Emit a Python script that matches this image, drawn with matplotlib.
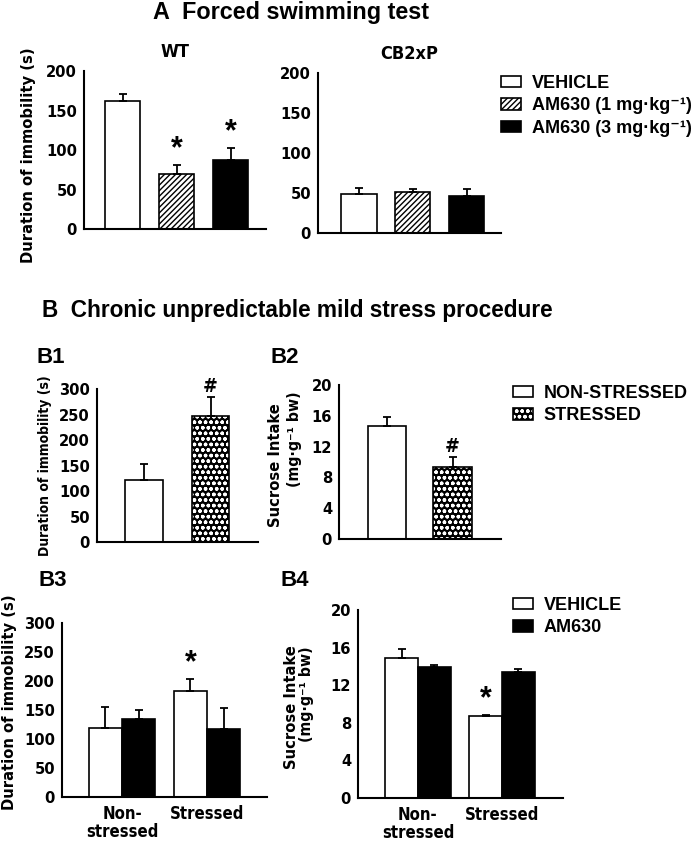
import matplotlib
matplotlib.use('Agg')
import matplotlib.pyplot as plt
from matplotlib.patches import Patch
import numpy as np

# ---- data ----
a_groups = ['VEHICLE', 'AM630 (1 mg·kg⁻¹)', 'AM630 (3 mg·kg⁻¹)']
a_wt = [162, 69, 87]
a_wt_err = [9, 12, 16]
a_cb2 = [49, 51, 46]
a_cb2_err = [7, 4, 9]

b_groups = ['NON-STRESSED', 'STRESSED']
b1_immob = [121, 248]
b1_err = [31, 37]
b2_sucrose = [14.7, 9.4]
b2_err = [1.2, 1.2]

b_cond = ['Non-\nstressed', 'Stressed']
b_treat = ['VEHICLE', 'AM630']
b3_vehicle = [119, 183]
b3_vehicle_err = [36, 20]
b3_am630 = [135, 117]
b3_am630_err = [15, 37]
b4_vehicle = [14.9, 8.7]
b4_vehicle_err = [1.0, 0.1]
b4_am630 = [13.9, 13.4]
b4_am630_err = [0.3, 0.3]

W, H = 693, 846
plt.rcParams['hatch.linewidth'] = 1.0
NARROW = dict(family='DejaVu Sans', stretch='condensed', fontweight='bold')
WIDE = dict(family=['Liberation Sans', 'DejaVu Sans'], fontweight='bold')
LEG_FONT = dict(family=['Liberation Sans', 'DejaVu Sans'], weight='bold', size=13)

fig = plt.figure(figsize=(W / 100, H / 100), dpi=100)


def add_ax(l, t, r, b):
    return fig.add_axes([l / W, 1 - b / H, (r - l) / W, (b - t) / H])


def ftext(x, y, s, **kw):
    return fig.text(x / W, 1 - y / H, s, **kw)


def style(ax, ymax, yticks):
    ax.set_ylim(0, ymax)
    ax.set_yticks(yticks)
    ax.set_yticklabels([str(t) for t in yticks], fontsize=11.8, **NARROW)
    for s in ['top', 'right']:
        ax.spines[s].set_visible(False)
    for s in ['left', 'bottom']:
        ax.spines[s].set_linewidth(1.5)
    ax.tick_params(length=0, pad=5)
    ax.set_xticks([])


def ebar(ax, x, y, e):
    ax.errorbar(x, y, yerr=[np.zeros(len(y)), e], fmt='none', ecolor='black',
                elinewidth=1.3, capsize=3, capthick=1.3)


def dotted_bar(ax, x, h, w):
    ax.bar(x, h, w, facecolor='black', hatch='ooo', edgecolor='white', linewidth=0)
    ax.bar(x, h, w, facecolor='none', edgecolor='black', linewidth=1.2)


def sucrose_label(xc1, xc2, top1, top2):
    ftext(xc1, top1, 'Sucrose Intake', rotation=90, ha='center', va='top',
          fontsize=11.8, **NARROW)
    ftext(xc2, top2, '(mg·g⁻¹ bw)', rotation=90, ha='center', va='top',
          fontsize=11.3, **NARROW)


# ---- panel A ----
styles_a = [dict(facecolor='white', edgecolor='black'),
            dict(facecolor='white', edgecolor='black', hatch='//////'),
            dict(facecolor='black', edgecolor='black')]

for (l, t, r, b), vals, errs, xl, title in [
        ((84, 71, 266, 229), a_wt, a_wt_err, (-0.713, 2.657), 'WT'),
        ((318, 73, 501, 233), a_cb2, a_cb2_err, (-0.76, 2.64), 'CB2xP')]:
    ax = add_ax(l, t, r, b)
    x = np.arange(len(vals))
    for i in range(len(vals)):
        ax.bar(x[i], vals[i], 0.66, linewidth=1.2, **styles_a[i])
    ebar(ax, x, vals, errs)
    ax.set_xlim(*xl)
    style(ax, 200, [0, 50, 100, 150, 200])
    ax.set_title(title, fontsize=13, pad=10, **NARROW)
    if title == 'WT':
        for i in [1, 2]:
            ax.text(x[i], vals[i] + errs[i] + 1, '*', ha='center', va='bottom',
                    fontsize=22, **WIDE)

ftext(29, 155, 'Duration of immobility (s)', rotation=90, ha='center', va='center',
      fontsize=11.8, **NARROW)
ftext(291, 13, 'A  Forced swimming test', ha='center', va='center', fontsize=16.8, **WIDE)
fig.legend([Patch(linewidth=1.2, **styles_a[i]) for i in range(3)], a_groups,
           loc='upper left', bbox_to_anchor=(501 / W, 1 - 75 / H), frameon=False,
           borderpad=0, borderaxespad=0, handlelength=1.1, handleheight=0.6,
           handletextpad=0.6, labelspacing=0.3, prop=LEG_FONT)

# ---- panel B1, B2 ----
ftext(42, 310, 'B  Chronic unpredictable mild stress procedure', ha='left',
      va='center', fontsize=16.3, **WIDE)

ax = add_ax(97, 389, 258, 542)
x = np.arange(2)
ax.bar(x[0], b1_immob[0], 0.57, facecolor='white', edgecolor='black', linewidth=1.2)
dotted_bar(ax, x[1], b1_immob[1], 0.57)
ebar(ax, x, b1_immob, b1_err)
ax.set_xlim(-0.707, 1.714)
style(ax, 300, [0, 50, 100, 150, 200, 250, 300])
ax.text(x[1], b1_immob[1] + b1_err[1] + 2, '#', ha='center', va='bottom',
        fontsize=14, **NARROW)
ftext(45, 466, 'Duration of immobility (s)', rotation=90, ha='center', va='center',
      fontsize=10, **NARROW)
ftext(37, 357, 'B1', va='center', fontsize=16, **WIDE)

ax = add_ax(339, 385, 501, 539)
ax.bar(x[0], b2_sucrose[0], 0.59, facecolor='white', edgecolor='black', linewidth=1.2)
dotted_bar(ax, x[1], b2_sucrose[1], 0.59)
ebar(ax, x, b2_sucrose, b2_err)
ax.set_xlim(-0.733, 1.74)
style(ax, 20, [0, 4, 8, 12, 16, 20])
ax.text(x[1], b2_sucrose[1] + b2_err[1] + 0.15, '#', ha='center', va='bottom',
        fontsize=14, **NARROW)
sucrose_label(276, 295, 403, 391)
ftext(270, 357, 'B2', va='center', fontsize=16, **WIDE)

fig.legend([Patch(facecolor='white', edgecolor='black', linewidth=1.2),
            (Patch(facecolor='black', hatch='ooo', edgecolor='white', linewidth=0),
             Patch(facecolor='none', edgecolor='black', linewidth=1.2))],
           b_groups, loc='upper left', bbox_to_anchor=(513 / W, 1 - 385 / H),
           frameon=False, borderpad=0, borderaxespad=0, handlelength=1.1,
           handleheight=0.6, handletextpad=0.6, labelspacing=0.3, prop=LEG_FONT)

# ---- panel B3, B4 ----
for (l, t, r, b), veh, veh_e, am, am_e, ymax, ticks, xl, lab, lx in [
        ((62, 623, 267, 797), b3_vehicle, b3_vehicle_err, b3_am630, b3_am630_err,
         300, [0, 50, 100, 150, 200, 250, 300], (-0.706, 1.706), 'B3', 38),
        ((358, 610, 563, 798), b4_vehicle, b4_vehicle_err, b4_am630, b4_am630_err,
         20, [0, 4, 8, 12, 16, 20], (-0.714, 1.726), 'B4', 280)]:
    ax = add_ax(l, t, r, b)
    x = np.arange(2)
    w = 0.39
    ax.bar(x - w / 2, veh, w, facecolor='white', edgecolor='black', linewidth=1.2)
    ax.bar(x + w / 2, am, w, facecolor='black', edgecolor='black', linewidth=1.2)
    ebar(ax, x - w / 2, veh, veh_e)
    ebar(ax, x + w / 2, am, am_e)
    ax.set_xlim(*xl)
    style(ax, ymax, ticks)
    ax.set_xticks(x)
    ax.set_xticklabels(b_cond, fontsize=12, linespacing=1.0, **NARROW)
    ax.tick_params(axis='x', pad=6)
    star_y = veh[1] + veh_e[1] + ymax * 0.005
    ax.text(x[1] - w / 2, star_y, '*', ha='center', va='bottom', fontsize=22, **WIDE)
    ftext(lx, 580, lab, va='center', fontsize=16, **WIDE)

ftext(10, 702, 'Duration of immobility (s)', rotation=90, ha='center', va='center',
      fontsize=11.8, **NARROW)
sucrose_label(291, 306, 645, 646)

fig.legend([Patch(facecolor='white', edgecolor='black', linewidth=1.2),
            Patch(facecolor='black', edgecolor='black', linewidth=1.2)],
           b_treat, loc='upper left', bbox_to_anchor=(513 / W, 1 - 597 / H),
           frameon=False, borderpad=0, borderaxespad=0, handlelength=1.1,
           handleheight=0.6, handletextpad=0.6, labelspacing=0.3, prop=LEG_FONT)

fig.savefig('out.png', dpi=100)
